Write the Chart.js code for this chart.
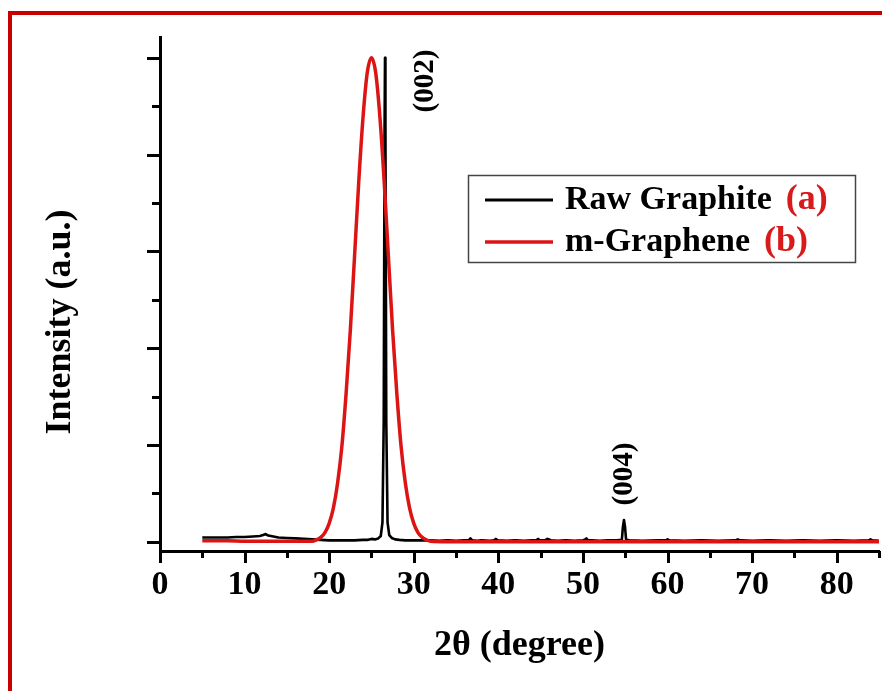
<!DOCTYPE html>
<html>
<head>
<meta charset="utf-8">
<script src="https://cdn.jsdelivr.net/npm/chart.js@4.4.1/dist/chart.umd.min.js"></script>
<style>
html,body{margin:0;padding:0;background:#fff;}
canvas{display:block;}
</style>
</head>
<body>
<canvas id="c" width="882" height="691"></canvas>
<script>
// ---- data ----
const seriesNames = ['Raw Graphite', 'm-Graphene'];
const seriesTags = ['(a)', '(b)'];
const xTitle = '2θ (degree)';
const yTitle = 'Intensity (a.u.)';
const xMajorTicks = [0, 10, 20, 30, 40, 50, 60, 70, 80];
const xMinorTicks = [5, 15, 25, 35, 45, 55, 65, 75, 85];
const yMajorTicks = [0, 200, 400, 600, 800, 1000];
const yMinorTicks = [100, 300, 500, 700, 900];
const peakLabels = ['(002)', '(004)'];
const peakLabelAnchors = [[31.4, 952], [54.9, 140]];

const rawGraphite = [
 [5,9],[6,9],[7,9],[8,9],[9,10],[10,10],[11,11],[11.8,12],[12.2,14],[12.5,16],[12.8,13],[13.4,11],
 [14,9],[15,8],[16,7],[17,6],[18,5],[19,4],[20,3],[21,3],[22,3],[23,3],[24,4],[24.6,4],[25,6],
 [25.4,5],[25.8,7],[26.1,12],[26.3,40],[26.45,250],[26.55,860],[26.6,1000],[26.65,860],[26.75,250],
 [26.9,40],[27.1,14],[27.4,8],[27.8,5],[28.3,4],[29,3],[30,3],[31,3],[32,3],[33,2],[34,3],[35,2],
 [36,3],[36.5,3],[36.7,7],[36.9,3],[37.5,2],[38,3],[39,2],[39.5,3],[39.7,6],[39.9,3],[41,2],[42,3],
 [43,2],[44,3],[44.5,3],[44.7,6],[44.9,3],[45.5,3],[45.8,6],[46,5],[46.2,3],[47,2],[48,3],[49,2],
 [50,3],[50.2,4],[50.4,7],[50.6,3],[51,3],[52,2],[53,3],[54,3],[54.6,4],[54.72,30],[54.85,45],
 [54.98,30],[55.1,4],[55.5,3],[57,2],[59,3],[59.8,3],[60,5],[60.2,3],[62,2],[64,3],[66,2],[68,3],
 [68.3,5],[68.6,3],[70,2],[72,3],[74,2],[76,3],[78,2],[80,3],[82,2],[83.8,3],[84,5],[84.2,3],[85,2]
];

const mGraphene = [
 [5,2],[6,2],[8,2],[10,1],[12,1],[14,1],[16,1],[17,1],[18,1],[18.5,4],[19,9],[19.5,19],[20,38],
 [20.5,70],[21,122],[21.5,197],[22,306],[22.5,437],[23,590],[23.5,745],[24,877],[24.5,969],[25,1000],
 [25.5,969],[26,877],[26.5,745],[27,590],[27.5,437],[28,306],[28.5,197],[29,122],[29.5,70],[30,38],
 [30.5,19],[31,9],[31.5,4],[32,1],[34,0],[40,0],[50,0],[60,0],[70,0],[80,0],[85,0]
];

const seriesColors = ['#000000', '#dc1414'];
const FONT = '"Liberation Serif", "Times New Roman", serif';

const decorPlugin = {
  id: 'decor',
  afterDraw(chart) {
    const ctx = chart.ctx;
    const xs = chart.scales.x, ys = chart.scales.y;
    const ca = chart.chartArea;
    ctx.save();
    // axis ticks
    ctx.strokeStyle = '#000';
    ctx.lineWidth = 3;
    ctx.lineCap = 'butt';
    const axisY = ca.bottom;
    const axisX = ca.left;
    const drawX = (v, len) => {
      const px = Math.round(xs.getPixelForValue(v)) + 0.5;
      ctx.beginPath(); ctx.moveTo(px, axisY); ctx.lineTo(px, axisY + len); ctx.stroke();
    };
    const drawY = (v, len) => {
      const py = Math.round(ys.getPixelForValue(v)) + 0.5;
      ctx.beginPath(); ctx.moveTo(axisX, py); ctx.lineTo(axisX - len, py); ctx.stroke();
    };
    xMajorTicks.forEach(v => drawX(v, 12));
    xMinorTicks.forEach(v => drawX(v, 7));
    yMajorTicks.forEach(v => drawY(v, 13));
    yMinorTicks.forEach(v => drawY(v, 8));

    // y title
    ctx.fillStyle = '#000';
    ctx.font = 'bold 36px ' + FONT;
    ctx.textAlign = 'center';
    ctx.textBaseline = 'middle';
    ctx.save();
    ctx.translate(61, 322);
    ctx.rotate(-Math.PI / 2);
    ctx.fillText(yTitle, 0, 0);
    ctx.restore();

    // peak labels
    ctx.font = 'bold 29px ' + FONT;
    peakLabels.forEach((t, i) => {
      const px = xs.getPixelForValue(peakLabelAnchors[i][0]);
      const py = ys.getPixelForValue(peakLabelAnchors[i][1]);
      ctx.save();
      ctx.translate(px, py);
      ctx.rotate(-Math.PI / 2);
      ctx.fillText(t, 0, 0);
      ctx.restore();
    });

    // legend
    const bx = 468, by = 175, bw = 387, bh = 87;
    ctx.fillStyle = '#fff';
    ctx.fillRect(bx, by, bw, bh);
    ctx.strokeStyle = '#444';
    ctx.lineWidth = 1.5;
    ctx.strokeRect(bx + 0.5, by + 0.5, bw, bh);
    const rows = [200, 242];
    ctx.textAlign = 'left';
    ctx.textBaseline = 'alphabetic';
    seriesNames.forEach((name, i) => {
      ctx.strokeStyle = seriesColors[i];
      ctx.lineWidth = i === 0 ? 3 : 3.5;
      ctx.beginPath(); ctx.moveTo(485, rows[i]); ctx.lineTo(553, rows[i]); ctx.stroke();
      ctx.font = 'bold 34px ' + FONT;
      ctx.fillStyle = '#000';
      ctx.fillText(name, 565, rows[i] + 9);
      const w = ctx.measureText(name).width;
      ctx.font = 'bold 36px ' + FONT;
      ctx.fillStyle = '#d81a1a';
      ctx.fillText(seriesTags[i], 565 + w + 14, rows[i] + 9);
    });

    // red frame
    ctx.strokeStyle = '#c80000';
    ctx.lineWidth = 4;
    ctx.strokeRect(10, 13, 1000, 1000);
    ctx.restore();
  }
};

new Chart(document.getElementById('c'), {
  type: 'line',
  data: {
    datasets: [
      { label: seriesNames[0], data: rawGraphite.map(p => ({x: p[0], y: p[1]})), borderColor: seriesColors[0],
        borderWidth: 2.6, pointRadius: 0, tension: 0, order: 1, borderJoinStyle: 'round' },
      { label: seriesNames[1], data: mGraphene.map(p => ({x: p[0], y: p[1]})), borderColor: seriesColors[1],
        borderWidth: 3.5, pointRadius: 0, cubicInterpolationMode: 'monotone', order: 0, borderJoinStyle: 'round' }
    ]
  },
  options: {
    responsive: false,
    animation: false,
    devicePixelRatio: 1,
    layout: { padding: { top: 37, right: 3, bottom: 0, left: 0 } },
    plugins: { legend: { display: false }, tooltip: { enabled: false } },
    scales: {
      x: {
        type: 'linear', min: 0, max: 85,
        afterFit(s) { s.height = 140; },
        grid: { display: false, drawTicks: false },
        border: { display: true, color: '#000', width: 3 },
        ticks: {
          stepSize: 10, includeBounds: false, padding: 14, color: '#000', autoSkip: false, maxRotation: 0,
          font: { family: FONT, size: 34, weight: 'bold' },
          callback: v => (xMajorTicks.includes(v) ? String(v) : '')
        },
        title: { display: true, text: xTitle, color: '#000',
          font: { family: FONT, size: 36, weight: 'bold', lineHeight: 1 }, padding: { top: 0, bottom: 27 } }
      },
      y: {
        type: 'linear', min: -19, max: 1043,
        afterFit(s) { s.width = 160; },
        grid: { display: false, drawTicks: false },
        border: { display: true, color: '#000', width: 3 },
        ticks: { display: false }
      }
    }
  },
  plugins: [decorPlugin]
});
</script>
</body>
</html>
